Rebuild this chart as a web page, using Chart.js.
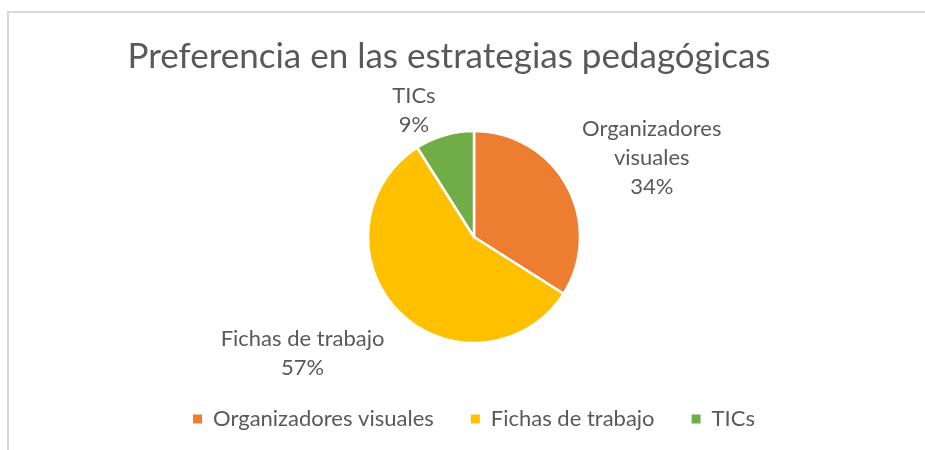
<!DOCTYPE html>
<html lang="es">
<head>
    <meta charset="UTF-8">
    <title>Preferencia en las estrategias pedagógicas</title>
    <script src="https://cdn.jsdelivr.net/npm/chart.js"></script>
    <style>
        body { margin: 0; background: #fff; }
        #wrap { position: relative; width: 925px; height: 450px; }
        #frame {
            position: absolute; left: 7px; top: 11px; right: -5px; bottom: -5px;
            border-top: 2px solid #d9d9d9; border-left: 2px solid #d9d9d9;
        }
        canvas { position: absolute; left: 0; top: 0; }
    </style>
</head>
<body>
<div id="wrap">
    <div id="frame"></div>
    <canvas id="pieChart" width="925" height="450"></canvas>
</div>

<script>
    // datos
    const categories = ['Organizadores visuales', 'Fichas de trabajo', 'TICs'];
    const values = [34, 57, 9];
    const colors = ['#ED7D31', '#FFC000', '#70AD47'];
    const chartTitle = 'Preferencia en las estrategias pedagógicas';

    // pequeños ajustes a mano de las etiquetas (px), como en el original
    const labelNudge = [[2, 3], [-4, 2], [-20, 19]];

    const textColor = '#595959';
    const fontFamily = 'Lato, "Noto Sans", sans-serif';

    // titulo dibujado a mano (centrado en el marco, no en el area del grafico)
    const titlePlugin = {
        id: 'titlePlugin',
        afterDraw(chart) {
            const ctx = chart.ctx;
            ctx.save();
            ctx.font = '35px ' + fontFamily;
            ctx.fillStyle = textColor;
            ctx.textAlign = 'center';
            ctx.textBaseline = 'middle';
            ctx.fillText(chartTitle, 449, 57);
            ctx.restore();
        }
    };

    function wrapText(ctx, text, maxWidth) {
        const words = text.split(' ');
        const lines = [];
        let line = '';
        words.forEach(w => {
            const test = line ? line + ' ' + w : w;
            if (line && ctx.measureText(test).width > maxWidth) {
                lines.push(line);
                line = w;
            } else {
                line = test;
            }
        });
        lines.push(line);
        return lines;
    }

    // etiquetas de datos por fuera de cada sector
    const labelPlugin = {
        id: 'labelPlugin',
        afterDatasetsDraw(chart) {
            const ctx = chart.ctx;
            const meta = chart.getDatasetMeta(0);
            const data = chart.data.datasets[0].data;
            const total = data.reduce((a, b) => a + b, 0);
            const lineH = 29;
            const gap = 15;
            ctx.save();
            ctx.font = '22px ' + fontFamily;
            ctx.fillStyle = textColor;
            ctx.textAlign = 'center';
            ctx.textBaseline = 'middle';
            meta.data.forEach((arc, i) => {
                const p = arc.getProps(['x', 'y', 'startAngle', 'endAngle', 'outerRadius'], true);
                const mid = (p.startAngle + p.endAngle) / 2;
                const dx = Math.cos(mid), dy = Math.sin(mid);
                const lines = wrapText(ctx, chart.data.labels[i], 190);
                lines.push(Math.round(data[i] / total * 100) + '%');
                const w = Math.max(...lines.map(l => ctx.measureText(l).width));
                const h = lines.length * lineH;
                const m = Math.max(Math.abs(dx), Math.abs(dy));
                const ax = p.x + dx * (p.outerRadius + gap);
                const ay = p.y + dy * (p.outerRadius + gap);
                const cx = ax + dx * w / 2 / m + labelNudge[i][0];
                const cy = ay + dy * h / 2 / m + labelNudge[i][1];
                lines.forEach((l, k) => {
                    ctx.fillText(l, cx, cy - h / 2 + lineH / 2 + k * lineH);
                });
            });
            ctx.restore();
        }
    };

    const ctx = document.getElementById('pieChart').getContext('2d');
    const pieChart = new Chart(ctx, {
        type: 'pie',
        data: {
            labels: categories,
            datasets: [{
                data: values,
                backgroundColor: colors,
                borderColor: '#ffffff',
                borderWidth: 2.5
            }]
        },
        options: {
            responsive: false,
            animation: false,
            radius: 106,
            layout: {
                padding: { top: 103, bottom: 10, left: 23, right: 0 }
            },
            plugins: {
                title: { display: false },
                tooltip: { enabled: false },
                legend: {
                    position: 'bottom',
                    labels: {
                        boxWidth: 9,
                        boxHeight: 9,
                        padding: 37,
                        color: textColor,
                        font: { family: fontFamily, size: 22 },
                        generateLabels(chart) {
                            const items = Chart.overrides.pie.plugins.legend.labels.generateLabels(chart);
                            items.forEach(it => {
                                it.lineWidth = 0;
                                it.strokeStyle = it.fillStyle;
                            });
                            return items;
                        }
                    }
                }
            }
        },
        plugins: [titlePlugin, labelPlugin]
    });
</script>
</body>
</html>
